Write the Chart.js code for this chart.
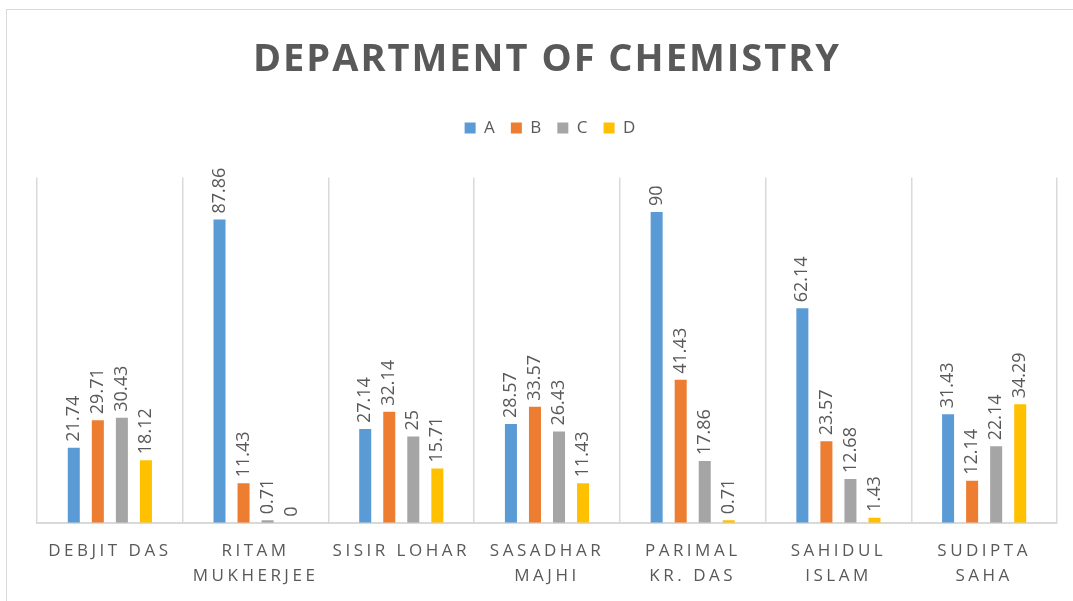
<!DOCTYPE html>
<html>
<head>
<meta charset="utf-8">
<script src="https://cdn.jsdelivr.net/npm/chart.js@4"></script>
<style>
  html, body { margin: 0; padding: 0; overflow: hidden; background: #fff; }
  #frame { position: absolute; left: 6px; top: 9px; width: 1200px; height: 800px; border: 1px solid #d9d9d9; }
  #wrap { position: absolute; left: 0; top: 0; width: 1073px; height: 601px; }
</style>
</head>
<body>
<div id="frame"></div>
<div id="wrap"><canvas id="chart"></canvas></div>
<script>
const TEXT = '#595959';
const FONT = "'Open Sans', sans-serif";

// categories (two-line labels as in the picture)
const names = [
  'DEBJIT DAS',
  ['RITAM', 'MUKHERJEE'],
  'SISIR LOHAR',
  ['SASADHAR', 'MAJHI'],
  ['PARIMAL', 'KR. DAS'],
  ['SAHIDUL', 'ISLAM'],
  ['SUDIPTA', 'SAHA']
];
const gradeA = [21.74, 87.86, 27.14, 28.57, 90, 62.14, 31.43];
const gradeB = [29.71, 11.43, 32.14, 33.57, 41.43, 23.57, 12.14];
const gradeC = [30.43, 0.71, 25, 26.43, 17.86, 12.68, 22.14];
const gradeD = [18.12, 0, 15.71, 11.43, 0.71, 1.43, 34.29];

const seriesNames = ['A', 'B', 'C', 'D'];
const seriesColors = ['#5b9bd5', '#ed7d31', '#a5a5a5', '#ffc000'];
const seriesData = [gradeA, gradeB, gradeC, gradeD];

// value labels written upwards above each bar
const valueLabels = {
  id: 'valueLabels',
  beforeInit(chart) {
    // leave a gap between legend and plot
    const fit = chart.legend.fit;
    chart.legend.fit = function () {
      fit.call(this);
      this.height += 31;
    };
  },
  afterDatasetsDraw(chart) {
    const ctx = chart.ctx;
    ctx.save();
    ctx.letterSpacing = '0px';
    ctx.font = '18px ' + FONT;
    ctx.fillStyle = TEXT;
    ctx.textAlign = 'left';
    ctx.textBaseline = 'middle';
    chart.data.datasets.forEach((ds, di) => {
      chart.getDatasetMeta(di).data.forEach((bar, i) => {
        ctx.save();
        ctx.translate(bar.x, bar.y - 6);
        ctx.rotate(-Math.PI / 2);
        ctx.fillText(String(ds.data[i]), 0, 0);
        ctx.restore();
      });
    });
    ctx.restore();
    // spaced-out category labels are drawn after the bars (ticks z = 1)
    ctx.letterSpacing = '3.5px';
  },
  beforeDraw(chart) {
    chart.ctx.letterSpacing = '2px';
  },
  beforeDatasetsDraw(chart) {
    chart.ctx.letterSpacing = '0px';
  },
  afterDraw(chart) {
    chart.ctx.letterSpacing = '0px';
  }
};

new Chart(document.getElementById('chart'), {
  type: 'bar',
  data: {
    labels: names,
    datasets: seriesData.map((d, i) => ({
      label: seriesNames[i],
      data: d,
      backgroundColor: seriesColors[i],
      borderWidth: 0,
      categoryPercentage: 0.66,
      barPercentage: 0.5
    }))
  },
  options: {
    responsive: true,
    maintainAspectRatio: false,
    animation: false,
    layout: { padding: { left: 37, right: 16, top: 0, bottom: -3 } },
    plugins: {
      title: {
        display: true,
        text: 'DEPARTMENT OF CHEMISTRY',
        color: TEXT,
        font: { family: FONT, size: 38, weight: 'bold' },
        padding: { top: 37, bottom: 23 }
      },
      legend: {
        display: true,
        labels: {
          color: TEXT,
          font: { family: FONT, size: 17 },
          boxWidth: 11,
          boxHeight: 11,
          padding: 14
        }
      },
      tooltip: { enabled: false }
    },
    scales: {
      x: {
        grid: { display: true, offset: true, color: '#d9d9d9', drawTicks: false, lineWidth: 1.5 },
        border: { display: true, color: '#d9d9d9', width: 2 },
        ticks: {
          z: 1,
          color: TEXT,
          font: { family: FONT, size: 17, lineHeight: 1.45 },
          padding: 16,
          autoSkip: false,
          maxRotation: 0,
          minRotation: 0
        }
      },
      y: {
        display: false,
        min: 0,
        max: 100
      }
    }
  },
  plugins: [valueLabels]
});
</script>
</body>
</html>
